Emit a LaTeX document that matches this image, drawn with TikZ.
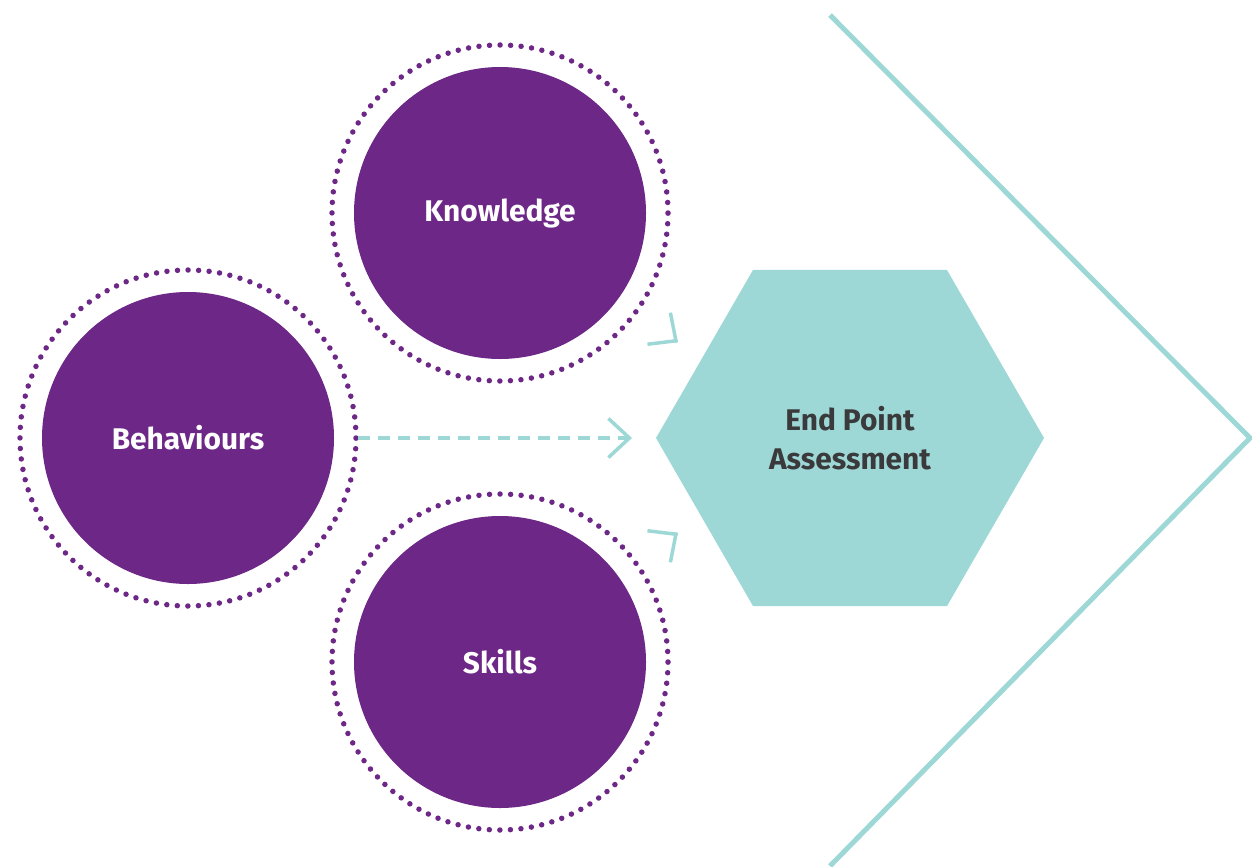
\documentclass[tikz,border=0pt]{standalone}
\usepackage{fontspec}
\setmainfont{Fira Sans}
\usepackage{tikz}
\usetikzlibrary{arrows.meta,shapes.geometric,calc}

\definecolor{purple}{HTML}{6D2887}
\definecolor{teal}{HTML}{9ED8D6}
\definecolor{darkgrey}{HTML}{3A3A3C}

\tikzset{
    topic/.style={circle, fill=purple, minimum size=5.84cm, inner sep=0pt,
        text=white, font=\fontsize{17}{20}\selectfont\bfseries},
    ring/.style={purple, line width=0.11cm, line cap=round,
        dash pattern=on 0pt off 0.2111cm},
    barb/.style={teal, line width=0.07cm, -{Straight Barb[length=0.42cm, width=0.78cm]}},
}

\begin{document}
\begin{tikzpicture}
    \useasboundingbox (0,0) rectangle (25.04,-17.32);

    \node[topic] (knowledge) at (10,-4.26) {Knowledge};
    \node[topic] (behaviours) at (3.76,-8.76) {Behaviours};
    \node[topic] (skills) at (10,-13.24) {Skills};

    \draw[ring] (knowledge) circle (3.36);
    \draw[ring] (behaviours) circle (3.36);
    \draw[ring] (skills) circle (3.36);

    \node[regular polygon, regular polygon sides=6,
        fill=teal, minimum size=7.76cm, inner sep=0pt, text=darkgrey,
        align=center, font=\fontsize{17}{22}\selectfont\bfseries]
        (epa) at (17,-8.76) {End Point\\Assessment};

    % arrows into the hexagon
    \coordinate (ktip) at ($(knowledge)+(-36:4.4)$);
    \coordinate (stip) at ($(skills)+(36:4.4)$);
    \coordinate (btip) at ($(behaviours)+(8.88,0)$);
    \draw[barb, dash pattern=on 0.24cm off 0.16cm] ($(behaviours)+(3.4,0)$) -- (btip);
    \draw[barb] ($(knowledge)!0.995!(ktip)$) -- (ktip);
    \draw[barb] ($(skills)!0.995!(stip)$) -- (stip);

    % outer chevron
    \coordinate (top) at (16.6,-0.3);
    \coordinate (point) at (25,-8.76);
    \coordinate (bottom) at (16.6,-17.32);
    \draw[teal, line width=0.1cm] (top) -- (point) -- (bottom);
\end{tikzpicture}
\end{document}
